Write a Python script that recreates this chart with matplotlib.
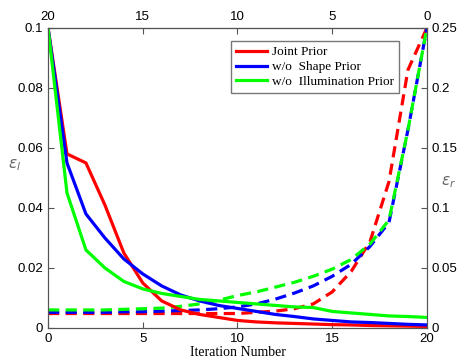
import matplotlib
matplotlib.use("Agg")
import matplotlib.pyplot as plt
import numpy as np

iters = list(range(21))
# solid curves: epsilon_l vs iteration number (bottom / left axes)
el_joint = [0.1, 0.058, 0.055, 0.041, 0.025, 0.015, 0.009, 0.006, 0.0045, 0.0035, 0.0025,
            0.002, 0.0017, 0.0015, 0.0013, 0.0011, 0.001, 0.0008, 0.0007, 0.0006, 0.0005]
el_shape = [0.1, 0.055, 0.038, 0.030, 0.023, 0.018, 0.014, 0.011, 0.009, 0.0075, 0.0065,
            0.0055, 0.0045, 0.0038, 0.003, 0.0025, 0.002, 0.0018, 0.0015, 0.0012, 0.001]
el_illum = [0.1, 0.045, 0.026, 0.020, 0.0155, 0.013, 0.0115, 0.0105, 0.0095, 0.009, 0.0085,
            0.008, 0.0075, 0.007, 0.0068, 0.0055, 0.005, 0.0045, 0.004, 0.0038, 0.0035]
# dashed curves: epsilon_r vs iteration number (bottom index; top axis is reversed)
er_joint = [0.012, 0.012, 0.012, 0.012, 0.012, 0.012, 0.012, 0.012, 0.012, 0.012, 0.012,
            0.013, 0.014, 0.016, 0.02, 0.03, 0.047, 0.072, 0.122, 0.215, 0.25]
er_shape = [0.013, 0.013, 0.013, 0.013, 0.0135, 0.0135, 0.014, 0.0145, 0.015, 0.016, 0.0175,
            0.02, 0.024, 0.029, 0.035, 0.043, 0.053, 0.068, 0.088, 0.165, 0.25]
er_illum = [0.015, 0.015, 0.015, 0.015, 0.0155, 0.016, 0.0165, 0.018, 0.02, 0.023, 0.027,
            0.03, 0.034, 0.038, 0.043, 0.049, 0.057, 0.07, 0.09, 0.165, 0.25]
labels = ["Joint Prior", "w/o  Shape Prior", "w/o  Illumination Prior"]
colors = ["#ff0000", "#0000ff", "#00ff00"]

fig = plt.figure(figsize=(4.62, 3.58), dpi=100)
ax = fig.add_axes([0.104, 0.084, 0.820, 0.838])
ax2 = ax.twinx()
lw = 2.3
sans = "Liberation Sans"
serif = "Liberation Serif"

for y, c, l in zip([el_joint, el_shape, el_illum], colors, labels):
    ax.plot(iters, y, color=c, lw=lw, label=l)
for y, c in zip([er_joint, er_shape, er_illum], colors):
    ax2.plot(iters, y, color=c, lw=lw, ls=(0, (3.5, 2)))

ax.set_xlim(0, 20)
ax.set_ylim(0, 0.1)
ax2.set_ylim(0, 0.25)
ax.set_xticks([0, 5, 10, 15, 20])
ax.set_yticks([0, 0.02, 0.04, 0.06, 0.08, 0.1])
ax.set_yticklabels(["0", "0.02", "0.04", "0.06", "0.08", "0.1"])
ax2.set_yticks([0, 0.05, 0.1, 0.15, 0.2, 0.25])
ax2.set_yticklabels(["0", "0.05", "0.1", "0.15", "0.2", "0.25"])

# top axis: reversed iteration numbers
axt = ax.secondary_xaxis('top', functions=(lambda x: 20 - x, lambda x: 20 - x))
axt.set_xticks([20, 15, 10, 5, 0])

for a in (ax, ax2):
    a.tick_params(direction='in', labelsize=9.5, length=4, color='#555555')
    for lab in a.get_xticklabels() + a.get_yticklabels():
        lab.set_fontfamily(sans)
axt.tick_params(direction='in', labelsize=9.5, length=4, color='#555555')
for lab in axt.get_xticklabels():
    lab.set_fontfamily(sans)
for a in (ax, ax2):
    for s in a.spines.values():
        s.set_color('#555555')
axt.spines['top'].set_color('#555555')

ax.set_xlabel("Iteration Number", fontfamily=serif, fontsize=10, labelpad=1)
fig.text(0.018, 0.54, r"$\varepsilon_l$", fontsize=11, color='#666666', va='center')
fig.text(0.955, 0.49, r"$\varepsilon_r$", fontsize=11, color='#666666', va='center')

leg = ax.legend(loc='upper left', bbox_to_anchor=(0.483, 0.957), borderaxespad=0,
                prop={'family': serif, 'size': 9.5},
                frameon=True, fancybox=False, edgecolor='#555555', handlelength=2.3,
                borderpad=0.4, labelspacing=0.2, handletextpad=0.4)
leg.set_zorder(10)
ax.set_zorder(ax2.get_zorder() + 1)
ax.patch.set_visible(False)

fig.savefig("out.png", dpi=100)
